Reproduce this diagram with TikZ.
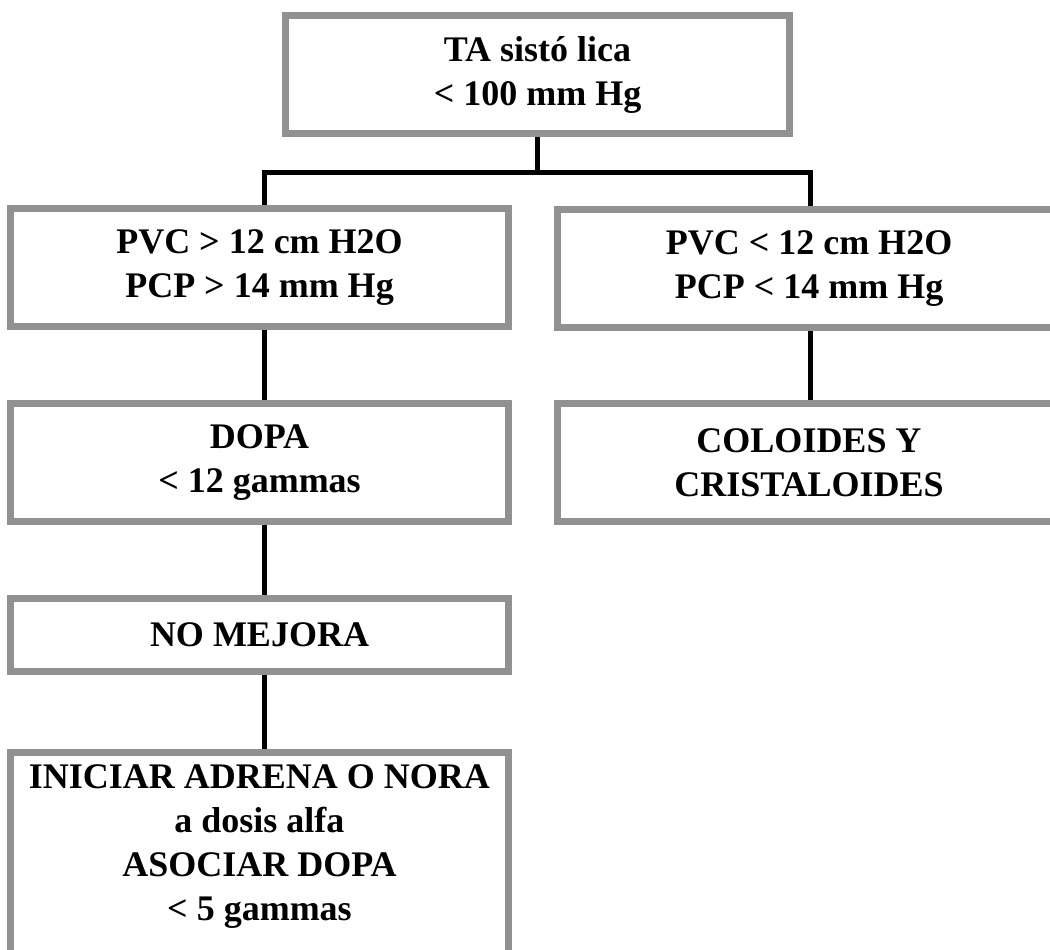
\documentclass[tikz,border=0pt]{standalone}
\usepackage{fontspec}
\setmainfont{Liberation Serif}
\usetikzlibrary{backgrounds}
\definecolor{framegray}{RGB}{145,145,145}
\begin{document}
\begin{tikzpicture}[x=1pt,y=-1pt,
  box/.style={draw=framegray, line width=7pt, fill=white, rectangle,
    inner sep=0pt, align=center, minimum height=118pt,
    font=\fontsize{36}{44}\selectfont\bfseries},
  txt/.style={inner sep=0pt, align=center,
    font=\fontsize{36}{44}\selectfont\bfseries},
  narrow/.style={minimum width=498pt},
  wide/.style={minimum width=503pt},
  link/.style={line width=5pt, draw=black}]
\useasboundingbox (0,0) rectangle (1050,950);
\clip (0,0) rectangle (1050,950);

% decision boxes
\node[box, minimum width=504pt] (ta) at (537.5,74.5) {TA sistó lica\\< 100 mm Hg};
\node[box, narrow] (hi) at (259.5,267.5) {PVC > 12 cm H2O\\PCP > 14 mm Hg};
\node[box, wide] (lo) at (809,268.5) {PVC < 12 cm H2O\\PCP < 14 mm Hg};
\node[box, narrow] (dopa) at (259.5,462.5) {DOPA\\< 12 gammas};
\node[box, wide] (fluids) at (809,462.5) {COLOIDES Y\\CRISTALOIDES};
\node[box, narrow, minimum height=73pt] (nomej) at (259.5,635) {NO MEJORA};
\node[box, narrow, minimum height=240pt, anchor=north] (start) at (259.5,748.5) {};
\node[txt, anchor=north] (starttext) at ([yshift=-16pt]start.north)
  {INICIAR ADRENA O NORA\\a dosis alfa\\ASOCIAR DOPA\\< 5 gammas};

% connectors, kept behind the white boxes
\begin{scope}[on background layer]
  \coordinate (split) at (537.5,172.5);
  \coordinate (lj) at (264,172.5);
  \coordinate (rj) at (810,172.5);
  \draw[link] (ta.south) -- (split);
  \draw[link] (split) -- (lj) -- (lj |- hi.north);
  \draw[link] (split) -- (rj) -- (rj |- lo.north);
  \draw[link] (lj |- hi.south) -- (lj |- dopa.north);
  \draw[link] (lj |- dopa.south) -- (lj |- nomej.north);
  \draw[link] (lj |- nomej.south) -- (lj |- start.north);
  \draw[link] (rj |- lo.south) -- (rj |- fluids.north);
\end{scope}
\end{tikzpicture}
\end{document}
